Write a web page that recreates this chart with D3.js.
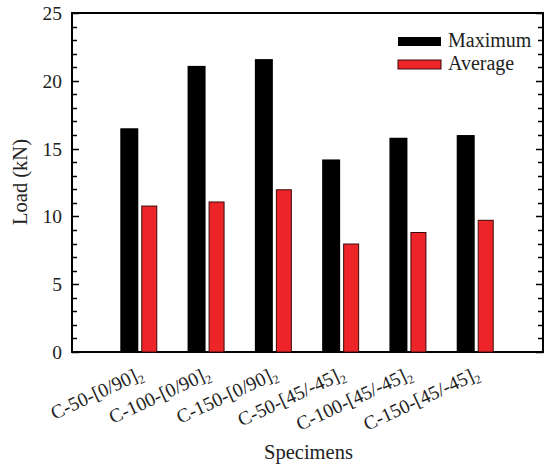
<!DOCTYPE html>
<html>
<head>
<meta charset="utf-8">
<script src="https://cdn.jsdelivr.net/npm/d3@7"></script>
<style>
  body { margin: 0; background: #fff; }
  svg text { font-family: "Liberation Serif", "Times New Roman", serif; fill: #222; }
</style>
</head>
<body>
<svg id="chart" width="548" height="467"></svg>
<script>
var specimens = [
  ["C-50-[0/90]", "2"],
  ["C-100-[0/90]", "2"],
  ["C-150-[0/90]", "2"],
  ["C-50-[45/-45]", "2"],
  ["C-100-[45/-45]", "2"],
  ["C-150-[45/-45]", "2"]
];
var maximum = [16.5, 21.1, 21.6, 14.2, 15.8, 16.0];
var average = [10.8, 11.1, 12.0, 8.0, 8.85, 9.75];
var seriesNames = ["Maximum", "Average"];
var yTicks = [0, 5, 10, 15, 20, 25];

var svg = d3.select("#chart");
var plotL = 72, plotR = 543, plotT = 13, plotB = 352;

var x = d3.scalePoint()
  .domain(d3.range(specimens.length))
  .range([plotL, plotR])
  .padding(1);
var y = d3.scaleLinear().domain([0, 25]).range([plotB, plotT]);

// frame first, marks on top
svg.append("rect")
  .attr("x", plotL).attr("y", plotT)
  .attr("width", plotR - plotL).attr("height", plotB - plotT)
  .attr("fill", "none").attr("stroke", "#000").attr("stroke-width", 2);

// inward ticks on left and right
var minorTicks = d3.range(0, 26, 1);
var tickPath = d3.path();
minorTicks.forEach(function(d) {
  var len = d % 5 === 0 ? 7 : 5;
  var ty = Math.round(y(d)) + 0.5;
  tickPath.moveTo(plotL, ty); tickPath.lineTo(plotL + len, ty);
  tickPath.moveTo(plotR, ty); tickPath.lineTo(plotR - len, ty);
});
svg.append("path")
  .attr("d", tickPath.toString())
  .attr("fill", "none")
  .attr("stroke", "#000")
  .attr("stroke-width", 1.4);

// bars
var g = svg.append("g");
g.selectAll(".max").data(maximum).enter().append("rect")
  .attr("x", function(d, i) { return x(i) - 19; })
  .attr("y", function(d) { return y(d); })
  .attr("width", 18)
  .attr("height", function(d) { return y(0) - y(d); })
  .attr("fill", "#000");
g.selectAll(".avg").data(average).enter().append("rect")
  .attr("x", function(d, i) { return x(i) + 2.5; })
  .attr("y", function(d) { return y(d) + 0.5; })
  .attr("width", 15)
  .attr("height", function(d) { return y(0) - y(d) - 0.5; })
  .attr("fill", "#ee2528")
  .attr("stroke", "#3a0a0a")
  .attr("stroke-width", 1);

svg.selectAll(".ylab").data(yTicks).enter().append("text")
  .attr("x", 62)
  .attr("y", function(d) { return y(d) + 7; })
  .attr("text-anchor", "end")
  .attr("font-size", 19.5)
  .text(function(d) { return d; });

// x labels
var xl = svg.selectAll(".xlab").data(specimens).enter().append("text")
  .attr("transform", function(d, i) { return "translate(" + (x(i) + 5) + ",378) rotate(-25)"; })
  .attr("text-anchor", "end")
  .attr("font-size", 19.5);
xl.append("tspan").text(function(d) { return d[0]; });
xl.append("tspan").attr("font-size", 12).attr("dy", 4).text(function(d) { return d[1]; });

// axis titles
svg.append("text")
  .attr("x", (plotL + plotR) / 2 + 1).attr("y", 459)
  .attr("text-anchor", "middle").attr("font-size", 20.5)
  .text("Specimens");
svg.append("text")
  .attr("transform", "translate(27,182) rotate(-90)")
  .attr("text-anchor", "middle").attr("font-size", 20.5)
  .text("Load (kN)");

// legend
var colors = ["#000", "#ee2528"];
var lg = svg.selectAll(".leg").data(seriesNames).enter().append("g")
  .attr("transform", function(d, i) { return "translate(398," + (37 + i * 23) + ")"; });
lg.append("rect")
  .attr("width", 43).attr("height", 9)
  .attr("fill", function(d, i) { return colors[i]; })
  .attr("stroke", function(d, i) { return i ? "#3a0a0a" : "none"; });
lg.append("text")
  .attr("x", 50).attr("y", 10)
  .attr("font-size", 20)
  .text(function(d) { return d; });
</script>
</body>
</html>
